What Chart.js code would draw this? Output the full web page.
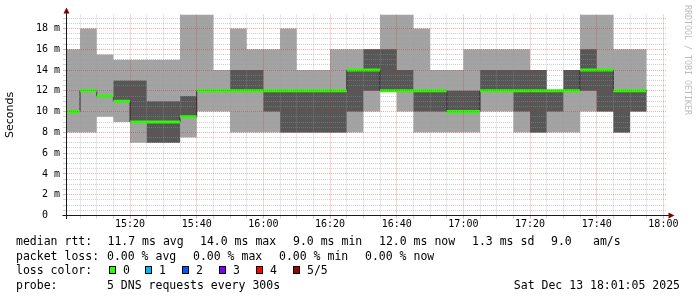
<!DOCTYPE html>
<html>
<head>
<meta charset="utf-8">
<script src="https://cdn.jsdelivr.net/npm/chart.js@4.4.1/dist/chart.umd.min.js"></script>
<style>
  html, body { margin: 0; padding: 0; background: #fff; }
  #wrap { position: relative; width: 697px; height: 297px; overflow: hidden; background: #fff; }
  #chart { position: absolute; left: 0; top: 0; }
  .leg { position: absolute; font-family: 'DejaVu Sans Mono', monospace; font-size: 11.5px; line-height: 14px; color: #000; white-space: pre; }
  .box { position: absolute; width: 7px; height: 8px; box-sizing: border-box; border: 1px solid #000; }
  #credit { position: absolute; left: 683px; top: 5px; writing-mode: vertical-rl; line-height: 10px;
            font-family: 'DejaVu Sans Mono', monospace; font-size: 8.3px; color: #bcbcbc; white-space: pre; }
</style>
</head>
<body>
<div id="wrap">
  <canvas id="chart" width="697" height="297"></canvas>
  <div id="legend"></div>
  <div id="credit">RRDTOOL / TOBI OETIKER</div>
</div>
<script>
// 5 minute bins (start time), last bin ends at END_TIME
const TIMES = ['15:01:05', '15:05', '15:10', '15:15', '15:20', '15:25', '15:30', '15:35', '15:40', '15:45',
  '15:50', '15:55', '16:00', '16:05', '16:10', '16:15', '16:20', '16:25', '16:30', '16:35',
  '16:40', '16:45', '16:50', '16:55', '17:00', '17:05', '17:10', '17:15', '17:20', '17:25',
  '17:30', '17:35', '17:40', '17:45', '17:50'];
const END_TIME = '17:55';

// sorted pings per bin (ms): min, 2nd, median, 4th, max
const PING_MIN = [8, 8, 9.5, 9, 7, 7, 7, 7.5, 10, 10, 8, 8, 8, 8, 8, 8, 8, 8, 10, 12,
  10, 8, 8, 8, 8, 10, 10, 8, 8, 8, 8, 10, 10, 8, 10];
const PING_2 = [10, 12, 11.5, 11, 9, 7, 7, 9.5, 12, 12, 12, 12, 10, 8, 8, 8, 8, 10, 12, 12,
  12, 10, 10, 10, 10, 12, 12, 10, 8, 10, 12, 12, 10, 8, 10];
const PING_MEDIAN = [10, 12, 11.5, 11, 9, 9, 9, 9.5, 12, 12, 12, 12, 12, 12, 12, 12, 12, 14, 14, 12,
  12, 12, 12, 10, 10, 12, 12, 12, 12, 12, 12, 14, 14, 12, 12];
const PING_4 = [10, 12, 11.5, 13, 13, 11, 11, 11.5, 12, 12, 14, 14, 12, 12, 12, 12, 12, 14, 16, 16,
  14, 12, 12, 12, 12, 14, 14, 14, 14, 12, 14, 16, 14, 12, 12];
const PING_MAX = [16, 18, 15.5, 15, 15, 15, 15, 20, 20, 14, 18, 16, 16, 18, 14, 14, 16, 16, 16, 20,
  20, 18, 14, 14, 16, 16, 16, 16, 14, 12, 14, 20, 20, 16, 16];

const X_LABELS = ['15:20', '15:40', '16:00', '16:20', '16:40', '17:00', '17:20', '17:40', '18:00'];
const Y_MAX = 19.35;

const RTT_STATS = ['11.7 ms avg', '14.0 ms max', '9.0 ms min', '12.0 ms now', '1.3 ms sd', '9.0', 'am/s'];
const LOSS_STATS = ['0.00 % avg', '0.00 % max', '0.00 % min', '0.00 % now'];
const LOSS_LABELS = ['0', '1', '2', '3', '4', '5/5'];
const PROBE = '5 DNS requests every 300s';
const STAMP = 'Sat Dec 13 18:01:05 2025';

// styles
const LOSS_COLORS = ['#26ff00', '#00b8ff', '#0059ff', '#7e00ff', '#ff0000', '#a10000'];
const LIGHT = '#a3a3a3', DARK = '#575757';
const MINOR = 'rgba(150,150,150,0.45)', MAJOR = 'rgba(200,40,40,0.38)';
const BAND = 0.145; // half height of the median bar (ms)

function toMin(t) {
  const p = t.split(':').map(Number);
  return (p[0] - 15) * 60 + p[1] + (p[2] || 0) / 60;
}
function fmt(v) {
  const h = 15 + Math.floor(v / 60), m = v % 60;
  return h + ':' + String(m).padStart(2, '0');
}

const X0 = toMin(TIMES[0]);
const xs = TIMES.map(toMin).concat([toMin(END_TIME)]);
function steps(vals, off) {
  off = off || 0;
  const pts = vals.map((v, i) => ({ x: xs[i], y: v + off }));
  pts.push({ x: xs[xs.length - 1], y: vals[vals.length - 1] + off });
  return pts;
}

const X_GRID = [];
for (let m = 5; m <= 180; m += 5) X_GRID.push(m);
const Y_GRID = [];
for (let v = 0; v <= 19; v += 0.5) Y_GRID.push(v);

function line(data, extra) {
  return Object.assign({ type: 'line', data, stepped: true, pointRadius: 0, borderWidth: 0,
    borderColor: 'transparent', fill: false }, extra);
}

const axesPlugin = {
  id: 'rrdAxes',
  afterDraw(chart) {
    const { ctx, chartArea: a } = chart;
    const ax = Math.round(a.left) - 0.5, ay = Math.round(a.bottom) - 0.5;
    ctx.save();
    ctx.strokeStyle = '#1a1a1a';
    ctx.lineWidth = 1;
    ctx.beginPath();
    ctx.moveTo(ax, ay + 3.5); ctx.lineTo(ax, 10);
    ctx.moveTo(ax - 4, ay); ctx.lineTo(a.right + 2, ay);
    ctx.stroke();
    ctx.fillStyle = '#7f0000';
    ctx.beginPath();
    ctx.moveTo(ax - 3, 13.5); ctx.lineTo(ax + 3, 13.5); ctx.lineTo(ax, 7.5); ctx.closePath();
    ctx.fill();
    ctx.beginPath();
    ctx.moveTo(a.right + 1.5, ay - 3); ctx.lineTo(a.right + 1.5, ay + 3); ctx.lineTo(a.right + 7.5, ay); ctx.closePath();
    ctx.fill();
    ctx.restore();
  }
};

new Chart(document.getElementById('chart').getContext('2d'), {
  type: 'line',
  data: {
    datasets: [
      line(steps(PING_MEDIAN, BAND), { fill: '+1', backgroundColor: LOSS_COLORS[0] }),
      line(steps(PING_MEDIAN, -BAND)),
      line(steps(PING_MEDIAN), { borderWidth: 1, borderColor: '#202020' }),
      line(steps(PING_4), { fill: '+1', backgroundColor: DARK }),
      line(steps(PING_2)),
      line(steps(PING_MAX), { fill: '+1', backgroundColor: LIGHT }),
      line(steps(PING_MIN))
    ]
  },
  options: {
    responsive: false,
    animation: false,
    events: [],
    layout: { padding: { top: 14.5, right: 30, bottom: 0, left: 0 } },
    plugins: { legend: { display: false }, tooltip: { enabled: false } },
    scales: {
      x: {
        type: 'linear', bounds: 'data', min: X0, max: X0 + 180,
        afterBuildTicks: s => { s.ticks = X_GRID.map(v => ({ value: v })); },
        afterFit: s => { s.height = 297 - 215.5; },
        ticks: {
          autoSkip: false, maxRotation: 0, padding: 0, color: '#000',
          font: { family: 'DejaVu Sans Mono', size: 10 },
          callback: v => X_LABELS.includes(fmt(v)) && v % 20 === 0 ? fmt(v) : ''
        },
        grid: {
          z: 1, tickLength: 3, lineWidth: 1,
          color: c => (c.tick && c.tick.value % 20 === 0) ? MAJOR : MINOR
        },
        border: { display: false, dash: [1, 1] }
      },
      y: {
        type: 'linear', bounds: 'data', min: 0, max: Y_MAX,
        afterBuildTicks: s => { s.ticks = Y_GRID.map(v => ({ value: v })); },
        afterFit: s => { s.width = 67; },
        ticks: {
          autoSkip: false, padding: 3, color: '#000',
          font: { family: 'DejaVu Sans Mono', size: 10 },
          callback: v => v % 2 === 0 ? (v === 0 ? '0  ' : v + ' m') : ''
        },
        grid: {
          z: 1, tickLength: 4, lineWidth: 1,
          color: c => (c.tick && c.tick.value % 2 === 0) ? MAJOR : MINOR
        },
        border: { display: false, dash: [1, 1] },
        title: { display: true, text: 'Seconds', color: '#000',
          font: { family: 'DejaVu Sans', size: 11 }, padding: { top: 4, bottom: 0 } }
      }
    }
  },
  plugins: [axesPlugin]
});

// text legend under the graph
const legend = document.getElementById('legend');
function put(text, left, top, right) {
  const d = document.createElement('div');
  d.className = 'leg';
  d.textContent = text;
  d.style.top = top + 'px';
  if (right != null) d.style.right = right + 'px'; else d.style.left = left + 'px';
  legend.appendChild(d);
  return d;
}
const RTT_X = [107.5, 200, 293, 379, 472, 551, 593];
const LOSS_X = [107, 193, 279, 365];
const BOX_X = [109, 145, 182, 219, 256, 293];

put('median rtt:', 16, 234);
RTT_STATS.forEach((t, i) => put(t, RTT_X[i], 234));
put('packet loss:', 16, 249);
LOSS_STATS.forEach((t, i) => put(t, LOSS_X[i], 249));
put('loss color:', 16, 263);
LOSS_LABELS.forEach((t, i) => {
  const b = document.createElement('div');
  b.className = 'box';
  b.style.left = BOX_X[i] + 'px';
  b.style.top = '266px';
  b.style.background = LOSS_COLORS[i];
  legend.appendChild(b);
  put(t, BOX_X[i] + 14, 263);
});
put('probe:', 16, 278);
put(PROBE, 107, 278);
put(STAMP, 0, 278, 17);
</script>
</body>
</html>
